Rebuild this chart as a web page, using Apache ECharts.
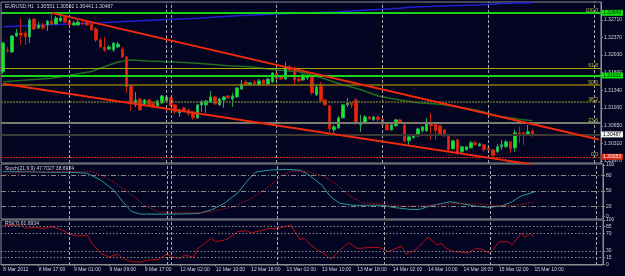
<!DOCTYPE html>
<html><head><meta charset="utf-8">
<script src="https://cdn.jsdelivr.net/npm/echarts@6/dist/echarts.min.js"></script>
<style>html,body{margin:0;padding:0;background:#030322;}#c{width:625px;height:276px;}</style>
</head><body><div id="c"></div>
<script>
// ---------- DATA ----------
const barCount = 136;
const xTickLabels = ['8 Mar 2012','8 Mar 17:00','9 Mar 01:00','9 Mar 09:00','9 Mar 17:00','12 Mar 02:00','12 Mar 10:00','12 Mar 18:00','13 Mar 02:00','13 Mar 10:00','13 Mar 18:00','14 Mar 02:00','14 Mar 10:00','14 Mar 18:00','15 Mar 02:00','15 Mar 10:00'];
const daySeparators = [15, 37, 38, 62, 86, 110, 134];

const openP = [
1.31701,1.32128,1.32089,1.32400,1.32458,1.32458,1.32380,1.32729,1.32555,1.32613,
1.32613,1.32691,1.32632,1.32691,1.32768,1.32691,1.32613,1.32613,1.32652,1.32671,
1.32632,1.32535,1.32322,1.32186,1.32147,1.32128,1.32186,1.32147,1.31992,1.31430,
1.31100,1.31177,1.31061,1.31158,1.31100,1.31042,1.31100,1.31139,1.31197,1.31061,
1.30906,1.31003,1.30964,1.30925,1.30809,1.31061,1.31061,1.31119,1.31216,1.31061,
1.31158,1.31236,1.31177,1.31216,1.31371,1.31507,1.31449,1.31507,1.31449,1.31546,
1.31468,1.31507,1.31682,1.31604,1.31565,1.31798,1.31779,1.31565,1.31546,1.31585,
1.31604,1.31255,1.31449,1.31158,1.31042,1.30576,1.30615,1.30809,1.31061,1.31100,
1.31158,1.30673,1.30712,1.30828,1.30770,1.30828,1.30789,1.30673,1.30576,1.30654,
1.30770,1.30673,1.30363,1.30421,1.30460,1.30557,1.30557,1.30712,1.30692,1.30654,
1.30576,1.30479,1.30207,1.30382,1.30149,1.30188,1.30227,1.30324,1.30266,1.30285,
1.30227,1.30188,1.30149,1.30246,1.30246,1.30343,1.30227,1.30518,1.30518,1.30479,
1.30551];
const closeP = [
1.32264,1.32109,1.32400,1.32458,1.32419,1.32380,1.32710,1.32535,1.32613,1.32555,
1.32691,1.32632,1.32749,1.32749,1.32671,1.32613,1.32652,1.32671,1.32632,1.32613,
1.32516,1.32322,1.32186,1.32128,1.32186,1.32264,1.32244,1.31992,1.31410,1.31100,
1.31158,1.30964,1.31158,1.31061,1.31022,1.31139,1.31236,1.31216,1.31042,1.30925,
1.30964,1.30945,1.30886,1.30809,1.31061,1.31119,1.31139,1.31216,1.31080,1.31177,
1.31216,1.31197,1.31236,1.31391,1.31468,1.31449,1.31488,1.31468,1.31527,1.31468,
1.31565,1.31682,1.31565,1.31565,1.31798,1.31740,1.31546,1.31527,1.31643,1.31604,
1.31294,1.31410,1.31139,1.31061,1.30595,1.30634,1.30809,1.31061,1.31100,1.31061,
1.30712,1.30712,1.30828,1.30789,1.30828,1.30770,1.30673,1.30576,1.30673,1.30770,
1.30712,1.30363,1.30440,1.30479,1.30595,1.30634,1.30731,1.30654,1.30557,1.30479,
1.30460,1.30188,1.30363,1.30130,1.30246,1.30246,1.30324,1.30285,1.30304,1.30188,
1.30188,1.30072,1.30246,1.30285,1.30343,1.30207,1.30518,1.30479,1.30498,1.30537,
1.30487];
const lowP = [
1.31662,1.32070,1.32070,1.32380,1.32225,1.32225,1.32264,1.32516,1.32535,1.32516,
1.32497,1.32613,1.32632,1.32671,1.32652,1.32594,1.32594,1.32594,1.32613,1.32594,
1.32497,1.32283,1.32167,1.32089,1.32128,1.32089,1.32167,1.31973,1.31294,1.30945,
1.31022,1.30945,1.31042,1.31042,1.31003,1.31003,1.31080,1.31119,1.31022,1.30886,
1.30828,1.30925,1.30848,1.30770,1.30789,1.30925,1.30906,1.31100,1.31061,1.31042,
1.31003,1.31177,1.31022,1.31197,1.31352,1.31430,1.31430,1.31449,1.31430,1.31449,
1.31449,1.31488,1.31546,1.31546,1.31546,1.31721,1.31449,1.31507,1.31527,1.31546,
1.31255,1.31236,1.31100,1.31042,1.30537,1.30518,1.30595,1.30789,1.31022,1.31003,
1.30673,1.30537,1.30692,1.30770,1.30751,1.30731,1.30654,1.30557,1.30557,1.30634,
1.30692,1.30324,1.30285,1.30401,1.30440,1.30518,1.30537,1.30382,1.30382,1.30460,
1.30440,1.30149,1.30188,1.30091,1.30110,1.30169,1.30207,1.30266,1.30246,1.30149,
1.30149,1.30053,1.30130,1.30188,1.30227,1.30130,1.30149,1.30324,1.30285,1.30460,
1.30441];
const highP = [
1.32283,1.32186,1.32419,1.32535,1.32749,1.32497,1.32749,1.32749,1.32671,1.32652,
1.32710,1.32849,1.32788,1.32788,1.32807,1.32729,1.32691,1.32710,1.32691,1.32691,
1.32671,1.32574,1.32361,1.32380,1.32225,1.32283,1.32283,1.32186,1.32012,1.31468,
1.31313,1.31197,1.31177,1.31177,1.31119,1.31158,1.31255,1.31236,1.31216,1.31080,
1.30983,1.31022,1.30983,1.30945,1.31080,1.31158,1.31158,1.31333,1.31236,1.31197,
1.31236,1.31255,1.31294,1.31410,1.31546,1.31546,1.31507,1.31546,1.31565,1.31565,
1.31585,1.31701,1.31701,1.31624,1.31895,1.31837,1.31818,1.31604,1.31662,1.31624,
1.31624,1.31449,1.31507,1.31177,1.31061,1.30673,1.30848,1.31080,1.31197,1.31119,
1.31197,1.30867,1.30867,1.30848,1.30848,1.30848,1.30809,1.30692,1.30692,1.30789,
1.30789,1.30692,1.30460,1.30498,1.30615,1.30654,1.30809,1.30906,1.30731,1.30673,
1.30595,1.30498,1.30382,1.30401,1.30266,1.30266,1.30363,1.30363,1.30324,1.30304,
1.30246,1.30207,1.30304,1.30382,1.30382,1.30363,1.30576,1.30634,1.30537,1.30673,
1.30592];

// moving averages [barIndex, price]
const maBlue = [[0,1.32580],[22,1.32658],[31,1.32696],[44,1.32743],[53,1.32794],[62,1.32827],[76,1.32871],[83,1.32904],[90,1.32937],[92,1.32957],[101,1.32988],[108,1.33001],[114,1.33034],[120,1.33046]];
const maGreen = [[0,1.31511],[11,1.31577],[20,1.31710],[22,1.31772],[26,1.31894],[29,1.31933],[33,1.31913],[40,1.31888],[44,1.31869],[51,1.31822],[56,1.31803],[62,1.31739],[67,1.31706],[72,1.31593],[76,1.31476],[81,1.31360],[85,1.31233],[90,1.31156],[94,1.31103],[99,1.31072],[103,1.31025],[108,1.30948],[112,1.30845],[117,1.30780],[120,1.30753]];

// trend lines [barIndex, price]
const trendUpper = [[11,1.32849],[135,1.30388]];
const trendLower = [[0,1.31470],[120,1.29904]];

// fibonacci + horizontal lines
const fibHigh = 1.32849, fibLow = 1.30053;
const fibLevels = [100, 61.8, 50, 38.2, 23.6, 0];
const hLineGreen = 1.31632;
const bidPrice = 1.30487;

const priceTicks = [1.32710,1.32370,1.32030,1.31690,1.31340,1.31000,1.30650,1.30310,1.29970];
const stochTicks = [0,20,50,80,100];
const stochLevels = [80,50,20];
const rsiTicks = [0,15,30,70,85,100];
const rsiLevels = [85,70,30,15];

const stochMain = [[0,87],[4,87],[10,86],[15,86],[19,84],[22,71],[25,51],[27,29],[29,10],[31,5],[38,5],[44,6],[47,13],[50,26],[53,46],[55,68],[57,86],[60,90],[64,91.5],[67,90],[69,81],[72,61],[74,38],[76,26],[79,22],[86,22],[88,18],[92,14],[94,14],[97,22],[101,29],[103,26],[107,20],[110,18],[113,22],[115,29],[117,40],[120,47.7]];
const stochSignal = [[0,80],[2,84],[5,87],[20,87],[23,77],[26,61],[29,42],[32,22],[35,9.5],[38,7.5],[43,7.5],[47,9.5],[52,19],[56,35],[60,58],[63,80],[65,88],[69,87],[70,83],[72,80],[75,64],[78,42],[81,27],[86,24],[90,20.5],[95,20.5],[99,24],[104,25.7],[108,24],[113,21],[116,22.4],[120,28.7]];
const rsiLine = [[0,88],[4,89],[5,81],[7,84],[9,81],[11,85],[13,79],[15,68],[17,64],[19,66],[20,48],[22,25],[24,17],[26,23],[27,13.5],[29,6],[31,5],[33,10],[35,11],[37,23],[38,17],[40,13.5],[41,21],[43,16],[44,36],[47,59],[48,51],[50,55],[51,59],[53,74],[55,76],[56,71],[58,76],[60,81],[62,81],[65,89],[67,56],[68,59],[69,48],[71,32],[73,21],[74,11],[76,32],[78,49],[80,36],[83,38],[85,38],[87,28.5],[90,41],[91,23],[93,32],[95,51],[96,61],[98,44],[99,47.5],[100,36],[102,28.5],[105,26],[107,36],[108,34],[110,25],[112,51],[114,51],[115,44],[117,70],[118,61],[119,70],[120,61.7]];

const mainTitle = 'EURUSD,H1  1.30551 1.30592 1.30441 1.30487';
const stochTitle = 'Stoch(21,9,9) 47.7027 38.6924';
const rsiTitle = 'RSI(7) 61.6934';

// ---------- CHART ----------
const cats = Array.from({length: barCount}, (_, i) => String(i));
const candles = openP.map((o, i) => [o, closeP[i], lowP[i], highP[i]]);
const fibPrice = l => fibLow + (fibHigh - fibLow) * l / 100;
const FONT = 'Liberation Sans, Arial, sans-serif';
const FRAME = '#8c8c8c';
const TXT = '#d4d4d4';
const labelIdx = (i) => i % 8 === 0 && i / 8 < xTickLabels.length;

const sepLine = () => ({
  silent: true, symbol: 'none', animation: false,
  label: {show: false},
  lineStyle: {color: '#a8a8a8', type: [3, 2], width: 1},
  data: daySeparators.map(i => ({xAxis: String(i)}))
});

const fibStyles = [
  {color: '#19d419', width: 2, type: 'solid'},
  {color: '#a6a600', width: 1, type: 'solid'},
  {color: '#8a7808', width: 1.5, type: 'solid'},
  {color: '#6c6c28', width: 1.5, type: [2, 1]},
  {color: '#7c7c6c', width: 2, type: 'solid'},
  {color: '#d02810', width: 1, type: [2, 1]}
];
const fibLabelText = ['100.0', '61.8', '50.0', '38.2', '23.6', '0.0'];
const hMarks = fibLevels.map((l, k) => ({
  yAxis: fibPrice(l),
  lineStyle: fibStyles[k],
  label: {show: true, position: 'insideEndTop', formatter: fibLabelText[k], color: '#c4c040', fontSize: 5, fontFamily: FONT, distance: [3, 0]}
}));
hMarks.push({yAxis: hLineGreen, lineStyle: {color: '#16d616', width: 2, type: 'solid'}, label: {show: false}});
hMarks.push({yAxis: bidPrice, lineStyle: {color: '#3a3a30', width: 2, type: 'solid'}, label: {show: false}});
const boxMark = (price, bg, fg) => ({
  yAxis: price,
  lineStyle: {color: 'rgba(0,0,0,0)', width: 1},
  label: {show: true, position: 'end', formatter: price.toFixed(5), backgroundColor: bg, color: fg, fontSize: 5, fontFamily: FONT, padding: [1, 2, 0, 2], distance: 0}
});
hMarks.push(boxMark(fibHigh, '#10e010', '#102010'));
hMarks.push(boxMark(hLineGreen, '#10e010', '#102010'));
hMarks.push(boxMark(bidPrice, '#f4f4f4', '#101010'));
hMarks.push(boxMark(fibLow, '#e02810', '#ffffff'));

const gridBase = {left: 1, right: 22, show: true, borderColor: FRAME, borderWidth: 1, containLabel: false};
const xAx = (g) => ({
  type: 'category', gridIndex: g, data: cats, boundaryGap: true,
  axisLine: {show: g === 2, lineStyle: {color: FRAME}},
  axisTick: {show: g === 2, alignWithLabel: true, interval: (i) => labelIdx(i), length: 2, lineStyle: {color: FRAME}},
  axisLabel: {show: g === 2, interval: (i) => labelIdx(i), formatter: (v, i) => labelIdx(i) ? xTickLabels[i / 8] : '',
    align: 'left', color: TXT, fontSize: 5, fontFamily: FONT, margin: 2},
  splitLine: {show: false}
});
const yAx = (g, min, max, ticks, fmt) => ({
  type: 'value', gridIndex: g, position: 'right', min: min, max: max, scale: true,
  splitLine: {show: false},
  axisLine: {show: true, lineStyle: {color: FRAME}},
  axisTick: {show: true, length: 2, customValues: ticks, lineStyle: {color: FRAME}},
  axisLabel: {customValues: ticks, formatter: fmt, color: TXT, fontSize: 5, fontFamily: FONT, margin: 3}
});

const option = {
  backgroundColor: '#030322',
  animation: false,
  textStyle: {fontFamily: FONT},
  title: [
    {text: mainTitle, left: 5, top: 4, padding: 0, textStyle: {color: TXT, fontSize: 5, fontWeight: 'normal', fontFamily: FONT}},
    {text: stochTitle, left: 5, top: 166, padding: 0, textStyle: {color: TXT, fontSize: 5, fontWeight: 'normal', fontFamily: FONT}},
    {text: rsiTitle, left: 5, top: 221, padding: 0, textStyle: {color: TXT, fontSize: 5, fontWeight: 'normal', fontFamily: FONT}}
  ],
  grid: [
    Object.assign({top: 2, height: 161}, gridBase),
    Object.assign({top: 164, height: 55}, gridBase),
    Object.assign({top: 220, height: 45}, gridBase)
  ],
  xAxis: [xAx(0), xAx(1), xAx(2)],
  yAxis: [
    yAx(0, 1.29932, 1.33060, priceTicks, v => v.toFixed(5)),
    yAx(1, -4.5, 101.9, stochTicks, v => String(Math.round(v))),
    yAx(2, -1.5, 100.2, rsiTicks, v => String(Math.round(v)))
  ],
  series: [
    {type: 'line', xAxisIndex: 0, yAxisIndex: 0, data: [], markLine: sepLine(), z: 1},
    {type: 'line', xAxisIndex: 0, yAxisIndex: 0, data: [], silent: true,
      markLine: {silent: true, symbol: 'none', animation: false, precision: 6, data: hMarks}, z: 2},
    {type: 'line', xAxisIndex: 0, yAxisIndex: 0, data: maGreen, symbol: 'none', lineStyle: {color: '#1f6f1f', width: 1.5}, z: 3},
    {type: 'line', xAxisIndex: 0, yAxisIndex: 0, data: maBlue, symbol: 'none', lineStyle: {color: '#2020d0', width: 1.5}, z: 3},
    {type: 'candlestick', xAxisIndex: 0, yAxisIndex: 0, data: candles, barWidth: 3, z: 4,
      itemStyle: {color: '#16ee16', color0: '#e8260e', borderColor: '#1fae58', borderColor0: '#c0200c', borderWidth: 1}},
    {type: 'line', xAxisIndex: 0, yAxisIndex: 0, data: trendUpper, symbol: 'none', clip: true, lineStyle: {color: '#f02a0a', width: 2}, z: 5},
    {type: 'line', xAxisIndex: 0, yAxisIndex: 0, data: trendLower, symbol: 'none', clip: true, lineStyle: {color: '#f02a0a', width: 2}, z: 5},
    // stochastic
    {type: 'line', xAxisIndex: 1, yAxisIndex: 1, data: stochMain, symbol: 'none', lineStyle: {color: '#2a9a9a', width: 1}, z: 3,
      markLine: {silent: true, symbol: 'none', animation: false, label: {show: false}, precision: 2,
        lineStyle: {color: '#8a8a8a', type: [5, 2, 1, 2], width: 1},
        data: stochLevels.map(v => ({yAxis: v}))}},
    {type: 'line', xAxisIndex: 1, yAxisIndex: 1, data: stochSignal, symbol: 'none', lineStyle: {color: '#c01818', width: 1, type: [1.5, 1.5]}, z: 3},
    {type: 'line', xAxisIndex: 1, yAxisIndex: 1, data: [], markLine: sepLine(), z: 1},
    // rsi
    {type: 'line', xAxisIndex: 2, yAxisIndex: 2, data: rsiLine, symbol: 'none', lineStyle: {color: '#b81010', width: 1}, z: 3,
      markLine: {silent: true, symbol: 'none', animation: false, label: {show: false}, precision: 2,
        lineStyle: {color: '#8a8a8a', type: [1.5, 2], width: 1},
        data: rsiLevels.map(v => ({yAxis: v}))}},
    {type: 'line', xAxisIndex: 2, yAxisIndex: 2, data: [], markLine: sepLine(), z: 1}
  ]
};
const chart = echarts.init(document.getElementById('c'), null, {renderer: 'canvas'});
chart.setOption(option);
</script></body></html>
